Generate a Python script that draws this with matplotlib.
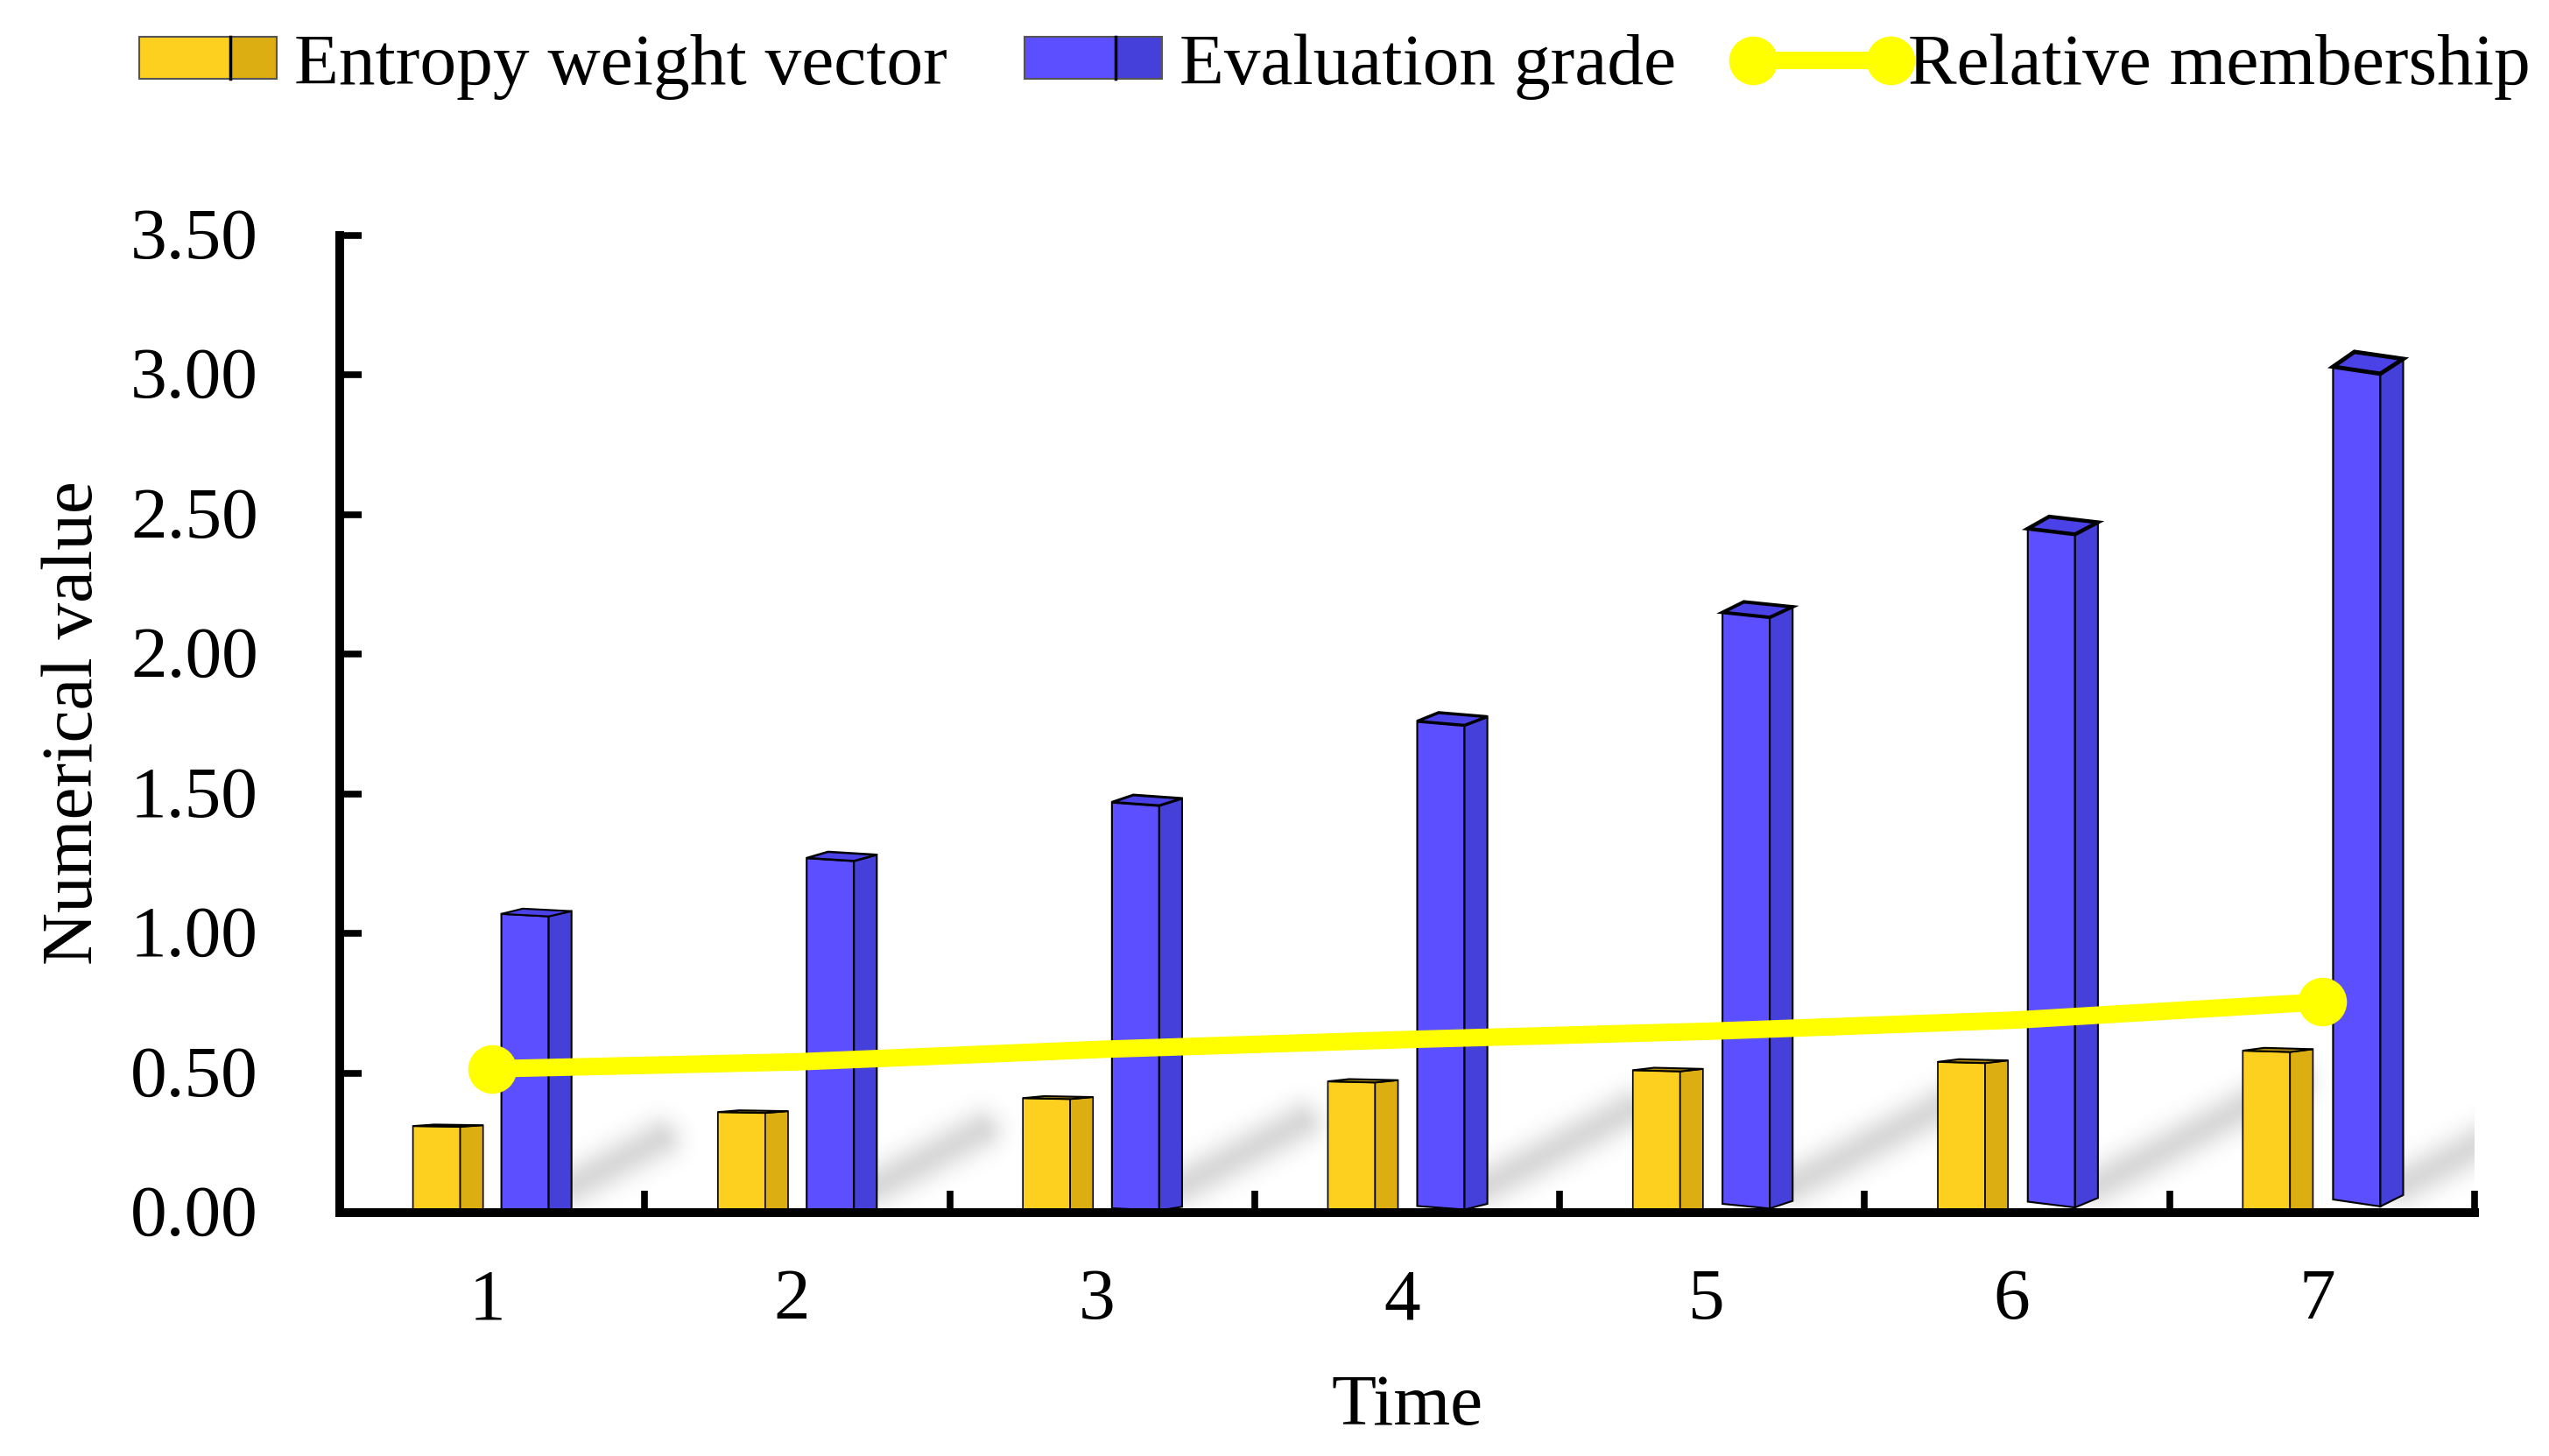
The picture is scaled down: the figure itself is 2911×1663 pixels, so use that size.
import numpy as np
import matplotlib
matplotlib.use("Agg")
import matplotlib.pyplot as plt
from matplotlib.patches import Patch, Rectangle
from matplotlib.lines import Line2D
from matplotlib.legend_handler import HandlerBase, HandlerLine2D
from matplotlib.transforms import Affine2D

times = [1, 2, 3, 4, 5, 6, 7]
entropy_weight = [0.31, 0.36, 0.41, 0.47, 0.51, 0.54, 0.58]
evaluation_grade = [1.07, 1.27, 1.47, 1.76, 2.15, 2.45, 3.03]
relative_membership = [0.515, 0.54, 0.585, 0.62, 0.65, 0.69, 0.755]
y_ticks = [0.0, 0.5, 1.0, 1.5, 2.0, 2.5, 3.0, 3.5]

W, H = 2911, 1663
plt.rcParams['font.family'] = ['Liberation Serif', 'DejaVu Serif']
FS = 60
fig = plt.figure(figsize=(W / 100, H / 100), dpi=100)
L, R, T, B = 388, 2826, 269, 1385
ax = fig.add_axes([L / W, 1 - B / H, (R - L) / W, (B - T) / H])
ax.set_xlim(0.5, 7.5)
ax.set_ylim(0, 3.5)
for s in ('top', 'right'):
    ax.spines[s].set_visible(False)
for s in ('left', 'bottom'):
    ax.spines[s].set_linewidth(7.2)
    ax.spines[s].set_zorder(8)

# soft shadows behind the bars, as a blurred image in data coordinates
px_x = (R - L) / 7.0
px_y = (B - T) / 3.5
gx, gy = np.meshgrid(np.linspace(0.5, 7.5, 1400), np.linspace(0.0, 0.7, 230))
shade = np.zeros_like(gx)
for x, v in zip(times, evaluation_grade):
    x0, y0 = x + 0.27, 0.10
    dx = 0.26 * v
    ax_, ay_ = dx * px_x, 0.58 * dx * px_y
    qx, qy = (gx - x0) * px_x, (gy - y0) * px_y
    t = np.clip((qx * ax_ + qy * ay_) / (ax_ ** 2 + ay_ ** 2), 0, 1)
    d2 = (qx - t * ax_) ** 2 + (qy - t * ay_) ** 2
    shade = np.maximum(shade, 0.15 * np.exp(-d2 / (2 * 17.0 ** 2)))
rgba = np.zeros(gx.shape + (4,))
rgba[..., 3] = shade
ax.imshow(rgba, extent=(0.5, 7.5, 0.0, 0.7), origin='lower', aspect='auto', zorder=1,
          interpolation='bilinear')
ax.set_xlim(0.5, 7.5)
ax.set_ylim(0, 3.5)


def box3d(x, v, off, front, side, top, base=(0, 0, 0), lw=1.2, toplw=1.5):
    xl, xm, xr = x + off, x + off + 0.155, x + off + 0.23
    xb = xl + 0.07
    tilt, rise = 0.0083 * v, 0.0093 * v
    bl, bm, br = base
    ax.bar(xl, v - tilt - max(bl, bm), width=0.155, bottom=max(bl, bm), align='edge',
           color=front, lw=0, zorder=3)
    ax.fill([xl, xm, xm, xl], [bl, bm, v - tilt, v], fc=front, ec='black', lw=lw, zorder=3)
    ax.fill([xm, xr, xr, xm], [bm, br, v + rise, v - tilt], fc=side, ec='black', lw=lw, zorder=3)
    ax.fill([xl, xm, xr, xb], [v, v - tilt, v + rise, v + rise + tilt], fc=top, ec='black',
            lw=toplw, zorder=3)


for i, (x, ye, bl) in enumerate(zip(times, entropy_weight, evaluation_grade)):
    box3d(x, ye, -0.26, '#FDCF1F', '#DDAE12', '#B08B10')
    f = i / 6
    box3d(x, bl, 0.03 + 0.006 * f, '#5B4FFF', '#4540D9', '#4A42E6',
          base=(0.047 * f, 0.022 * f, 0.063 * f), lw=1.5, toplw=1.5 + 2.0 * f)

line, = ax.plot(times, relative_membership, color='#FFFF00', lw=14.4, marker='o', ms=40,
                mew=0, zorder=6, solid_capstyle='butt', markevery=[0, 6],
                label='Relative membership')

ax.set_yticks(y_ticks)
ax.set_yticklabels([f'{v:.2f}' for v in y_ticks], fontsize=FS)
ax.tick_params(axis='y', direction='in', length=18, width=5.5, pad=67)
for lab in ax.get_yticklabels():
    lab.set_transform(lab.get_transform() + Affine2D().translate(0, 3))
ax.set_xticks(np.arange(0.5, 8.0, 1.0))
ax.set_xticklabels([])
ax.set_xticks(times, minor=True)
ax.set_xticklabels([str(t) for t in times], minor=True, fontsize=FS)
ax.tick_params(axis='x', which='major', direction='in', length=18, width=5.5)
ax.tick_params(axis='x', which='minor', length=0, pad=46)
for lab in ax.get_xticklabels(minor=True):
    lab.set_transform(lab.get_transform() + Affine2D().translate(-6, 0))

fig.text(1607 / W, 1 - 1607 / H, 'Time', ha='center', va='center', fontsize=FS)
fig.text(85 / W, 1 - 826 / H, 'Numerical value', ha='center', va='center', rotation=90, fontsize=FS)


class HandlerBox(HandlerBase):
    def create_artists(self, legend, orig, xd, yd, width, height, fontsize, trans):
        fr, sd = orig.get_facecolor(), orig.get_edgecolor()
        split = 0.665 * width
        a = Rectangle((-xd, -yd), split, height, fc=fr, ec='#555555', lw=1.5, transform=trans)
        b = Rectangle((-xd + split, -yd), width - split, height, fc=sd, ec='#555555', lw=1.5,
                      transform=trans)
        c = Line2D([-xd + split] * 2, [-yd, -yd + height], color='black', lw=2.5, transform=trans)
        return [a, b, c]


handles = [Patch(facecolor='#FDCF1F', edgecolor='#DDAE12', label='Entropy weight vector'),
           Patch(facecolor='#5B4FFF', edgecolor='#4540D9', label='Evaluation grade'),
           line]
fig.legend(handles=handles, loc='upper left', bbox_to_anchor=(159 / W, 1 - 38 / H), ncol=3,
           frameon=False, fontsize=FS, borderpad=0, borderaxespad=0, handlelength=1.88,
           handleheight=0.5, handletextpad=0.24, columnspacing=1.06, numpoints=2,
           handler_map={Patch: HandlerBox(), Line2D: HandlerLine2D(marker_pad=0.0, numpoints=2)})

fig.savefig('out.png', dpi=100)
